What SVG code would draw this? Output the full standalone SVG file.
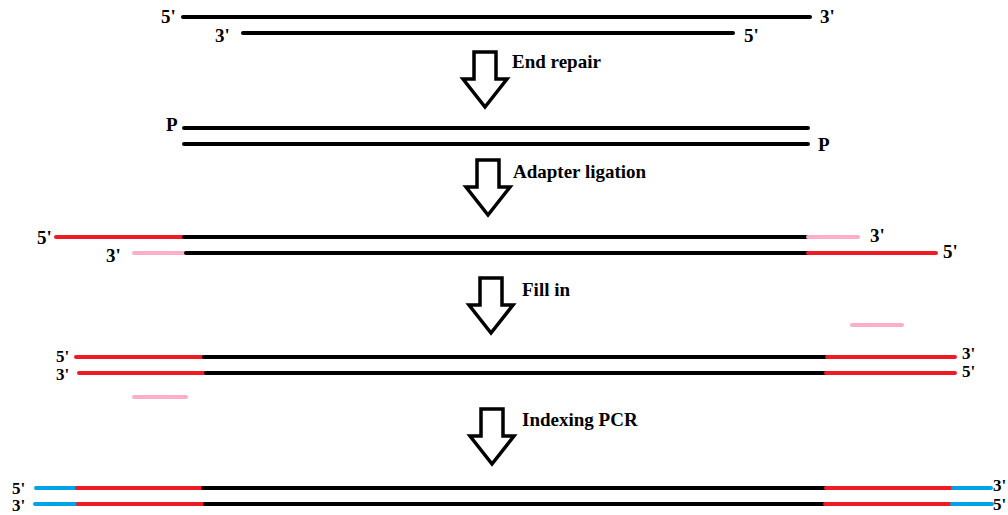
<svg xmlns="http://www.w3.org/2000/svg" width="1008" height="515" viewBox="0 0 1008 515">
<style>
.s{stroke-width:4;stroke-linecap:round;fill:none}
.k{stroke:#000}
.r{stroke:#ED1C24}
.p{stroke:#FFAEC9}
.b{stroke:#00A2E8}
.t{font-family:"Liberation Serif","Times New Roman",serif;font-weight:bold;font-size:19px;fill:#000}
.sm{font-size:17px}
.a{fill:#fff;stroke:#000;stroke-width:3.5;stroke-linejoin:miter}
</style>
<defs>
<path id="arr" d="M -11,-55 H 11 V -28 H 22 L 0,0 L -22,-28 H -11 Z"/>
</defs>
<rect width="1008" height="515" fill="#fff"/>

<g id="row1">
<line class="s k" x1="183" y1="17" x2="810" y2="17"/>
<line class="s k" x1="243" y1="33" x2="733" y2="33"/>
<text class="t" x="161" y="23">5'</text>
<text class="t" x="215" y="42">3'</text>
<text class="t" x="820" y="23">3'</text>
<text class="t" x="744" y="42">5'</text>
</g>

<g id="step1">
<use href="#arr" class="a" transform="translate(485,107)"/>
<text class="t" x="512" y="68">End repair</text>
</g>

<g id="row2">
<line class="s k" x1="184" y1="128" x2="808" y2="128"/>
<line class="s k" x1="184" y1="144" x2="808" y2="144"/>
<text class="t" x="166" y="131">P</text>
<text class="t" x="818" y="151">P</text>
</g>

<g id="step2">
<use href="#arr" class="a" transform="translate(488,215)"/>
<text class="t" x="513" y="178">Adapter ligation</text>
</g>

<g id="row3">
<line class="s r" x1="56" y1="237" x2="184" y2="237"/>
<line class="s k" x1="184" y1="237" x2="808" y2="237"/>
<line class="s p" x1="808" y1="237" x2="858" y2="237"/>
<line class="s p" x1="134" y1="253" x2="186" y2="253"/>
<line class="s k" x1="186" y1="253" x2="808" y2="253"/>
<line class="s r" x1="808" y1="253" x2="936" y2="253"/>
<text class="t" x="37" y="244">5'</text>
<text class="t" x="106" y="262">3'</text>
<text class="t" x="870" y="242">3'</text>
<text class="t" x="943" y="258">5'</text>
</g>

<g id="step3">
<use href="#arr" class="a" transform="translate(491,333)"/>
<text class="t" x="522" y="296">Fill in</text>
</g>

<g id="row4">
<line class="s r" x1="76" y1="357" x2="204" y2="357"/>
<line class="s k" x1="204" y1="357" x2="827" y2="357"/>
<line class="s r" x1="827" y1="357" x2="955" y2="357"/>
<line class="s r" x1="79" y1="373" x2="206" y2="373"/>
<line class="s k" x1="206" y1="373" x2="826" y2="373"/>
<line class="s r" x1="826" y1="373" x2="955" y2="373"/>
<line class="s p" x1="134" y1="397" x2="186" y2="397"/>
<line class="s p" x1="852" y1="325" x2="902" y2="325"/>
<text class="t sm" x="56" y="362">5'</text>
<text class="t sm" x="56" y="380">3'</text>
<text class="t sm" x="962" y="359">3'</text>
<text class="t sm" x="962" y="377">5'</text>
</g>

<g id="step4">
<use href="#arr" class="a" transform="translate(492,464)"/>
<text class="t" x="522" y="426">Indexing PCR</text>
</g>

<g id="row5">
<line class="s b" x1="36" y1="488" x2="77" y2="488"/>
<line class="s r" x1="77" y1="488" x2="203" y2="488"/>
<line class="s k" x1="203" y1="488" x2="826" y2="488"/>
<line class="s r" x1="826" y1="488" x2="953" y2="488"/>
<line class="s b" x1="953" y1="488" x2="991" y2="488"/>
<line class="s b" x1="35" y1="504" x2="78" y2="504"/>
<line class="s r" x1="78" y1="504" x2="205" y2="504"/>
<line class="s k" x1="205" y1="504" x2="825" y2="504"/>
<line class="s r" x1="825" y1="504" x2="952" y2="504"/>
<line class="s b" x1="952" y1="504" x2="992" y2="504"/>
<text class="t sm" x="12" y="494">5'</text>
<text class="t sm" x="12" y="511">3'</text>
<text class="t sm" x="993" y="491">3'</text>
<text class="t sm" x="993" y="510">5'</text>
</g>
</svg>
